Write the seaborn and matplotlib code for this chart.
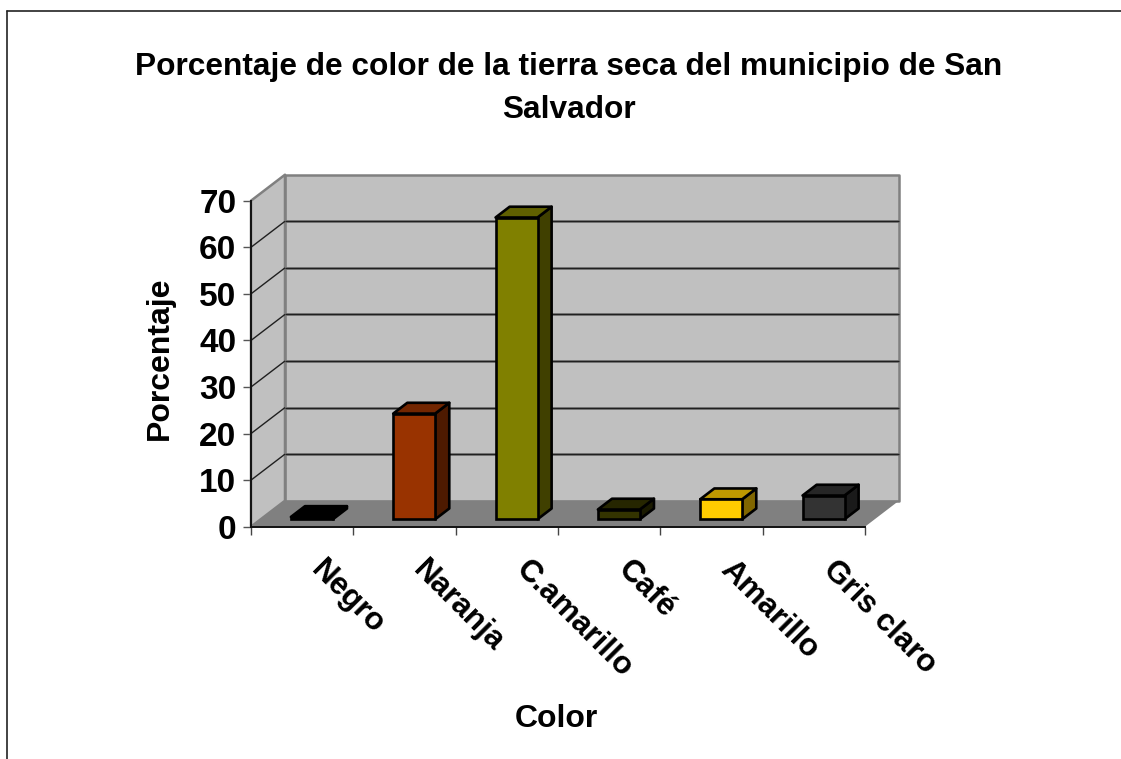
import matplotlib
matplotlib.use("Agg")
import matplotlib.pyplot as plt
from matplotlib.lines import Line2D
from matplotlib.patches import Polygon
from matplotlib.transforms import Affine2D, IdentityTransform
import numpy as np
import pandas as pd
import seaborn as sns

TITLE = "Porcentaje de color de la tierra seca del municipio de San\nSalvador"
X_LABEL = "Color"
Y_LABEL = "Porcentaje"
categories = ["Negro", "Naranja", "C.amarillo", "Café", "Amarillo", "Gris claro"]
values = [0.5, 22.7, 64.8, 2.1, 4.3, 5.1]
colors = ["#000000", "#993300", "#808000", "#333300", "#FFCC00", "#333333"]
y_ticks = [0, 10, 20, 30, 40, 50, 60, 70]

W, H = 1121, 759
DEPTH = np.array([34.0, 26.0])      # pixel shift of the back wall
BAR_FRONT, BAR_BACK = 0.285, 0.70   # bar depth as fraction of the floor

sns.set_theme(style="white")
plt.rcParams["font.family"] = ["Liberation Sans", "DejaVu Sans"]
plt.rcParams["font.weight"] = "bold"

fig = plt.figure(figsize=(W / 100, H / 100), dpi=100, facecolor="white")
ax = fig.add_axes([251 / W, 1 - 526.7 / H, 614 / W, 326 / H])
ax.patch.set_visible(False)

df = pd.DataFrame({"cat": categories, "val": values})
sns.barplot(data=df, x="cat", y="val", hue="cat", order=categories, hue_order=categories,
            palette=colors, saturation=1, width=0.41, legend=False, dodge=False,
            edgecolor="black", linewidth=1.9, ax=ax, zorder=5)
ax.set_xlim(-0.5, len(categories) - 0.5)
ax.set_ylim(min(y_ticks), max(y_ticks))


def proj(x, y, d=0.0):
    return ax.transData.transform((x, y)) + d * DEPTH


def face(points, fc, ec="none", lw=0.0, z=1):
    ax.add_patch(Polygon(np.array(points), closed=True, facecolor=fc, edgecolor=ec, linewidth=lw,
                         transform=IdentityTransform(), clip_on=False, zorder=z, joinstyle="round"))


def seg(p, q, color, lw, z=2):
    ax.add_line(Line2D([p[0], q[0]], [p[1], q[1]], color=color, linewidth=lw, solid_capstyle="butt",
                       transform=IdentityTransform(), clip_on=False, zorder=z))


x0, x1 = ax.get_xlim()
y0, y1 = ax.get_ylim()
WALL, FLOOR, EDGE = "#C0C0C0", "#808080", "#808080"
face([proj(x0, y0, 1), proj(x1, y0, 1), proj(x1, y1, 1), proj(x0, y1, 1)], WALL, EDGE, 1.8)
face([proj(x0, y0), proj(x0, y0, 1), proj(x0, y1, 1), proj(x0, y1)], WALL, EDGE, 1.8)
face([proj(x0, y0), proj(x1, y0), proj(x1, y0, 1), proj(x0, y0, 1)], FLOOR)
for t in y_ticks[1:-1]:
    seg(proj(x0, t, 1), proj(x1, t, 1), "#808080", 2.0, 2)
    seg(proj(x0, t, 1), proj(x1, t, 1), "#202020", 1.0, 2.1)
    seg(proj(x0, t), proj(x0, t, 1), "#202020", 1.0, 2.1)

# side and top faces grow out of the bars seaborn drew
shift = Affine2D().translate(*(BAR_FRONT * DEPTH))
for bar, c in zip(ax.patches[:], colors):
    bx0, bx1 = bar.get_x(), bar.get_x() + bar.get_width()
    top = bar.get_height()
    rgb = np.array(matplotlib.colors.to_rgb(c))
    bar.set_transform(ax.transData + shift)
    bar.set_clip_on(False)
    face([proj(bx1, 0, BAR_FRONT), proj(bx1, 0, BAR_BACK), proj(bx1, top, BAR_BACK), proj(bx1, top, BAR_FRONT)],
         rgb * 0.5, "black", 1.9, 4)
    face([proj(bx0, top, BAR_FRONT), proj(bx1, top, BAR_FRONT), proj(bx1, top, BAR_BACK), proj(bx0, top, BAR_BACK)],
         rgb * 0.75, "black", 1.9, 4)

sns.despine(ax=ax, top=True, right=True)
for s in ("left", "bottom"):
    ax.spines[s].set_color("#111111")
    ax.spines[s].set_linewidth(1.4)
    ax.spines[s].set_zorder(6)

ax.set_yticks(y_ticks)
ax.tick_params(axis="y", which="major", left=True, length=5.5, width=1.0, color="#555555",
               labelsize=24, pad=5, labelcolor="black")
ax.set_xticks(range(len(categories)))
ax.set_xticks(np.arange(x0, x1 + 0.5), minor=True)
ax.tick_params(axis="x", which="minor", bottom=True, length=6, width=1.0, color="#444444")
ax.tick_params(axis="x", which="major", bottom=False, labelsize=22.6, pad=14.4, labelcolor="black")
ax.set_xticklabels(categories, rotation=-45, ha="left", va="top", rotation_mode="anchor")
for lab in ax.get_xticklabels():
    lab.set_fontweight("bold")
    lab.set_transform(lab.get_transform() + Affine2D().translate(24, 0))
for lab in ax.get_yticklabels():
    lab.set_fontweight("bold")

ax.set_xlabel(X_LABEL, fontsize=23, fontweight="bold", color="black")
ax.set_ylabel(Y_LABEL, fontsize=23, fontweight="bold", color="black")
ax.xaxis.set_label_coords((556.5 - 251) / 614, (526.7 - 719) / 326)
ax.yaxis.set_label_coords((160 - 251) / 614, (526.7 - 358.5) / 326)
ax.xaxis.label.set_va("center")
ax.yaxis.label.set_va("center")

fig.text(569 / W, 1 - 88.5 / H, TITLE, ha="center", va="center", fontsize=22.8, fontweight="bold",
         color="black", linespacing=1.6)

# chart-area border: only the top and left edges fall inside the picture
fig.add_artist(Line2D([6.7 / W, 1], [1 - 11 / H, 1 - 11 / H], color="#222222", linewidth=1.2))
fig.add_artist(Line2D([6.7 / W, 6.7 / W], [0, 1 - 11 / H], color="#222222", linewidth=1.2))

fig.savefig("out.png", dpi=100)
